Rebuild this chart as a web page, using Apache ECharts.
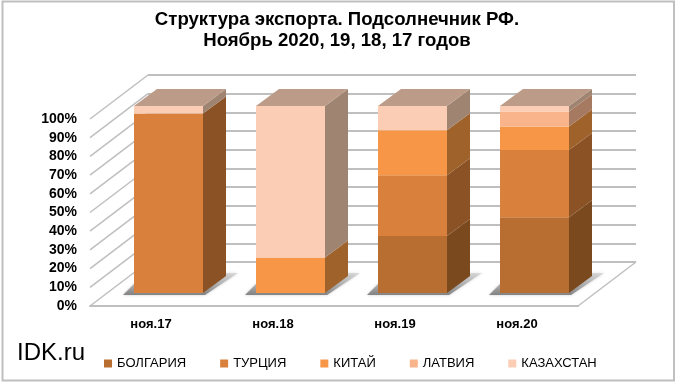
<!DOCTYPE html>
<html><head><meta charset="utf-8">
<style>html,body{margin:0;padding:0;background:#fff}#c{width:680px;height:385px}</style>
<script src="https://cdn.jsdelivr.net/npm/echarts@6/dist/echarts.min.js"></script>
</head><body><div id="c"></div>
<script>
const categories = ['ноя.17','ноя.18','ноя.19','ноя.20'];
const bulgaria   = [0, 0, 30.5, 40.5];
const turkey     = [96, 0, 32.5, 36];
const china      = [0, 19, 24, 12.5];
const latvia     = [0, 0, 0, 8];
const kazakhstan = [4, 81, 13, 3];
const yTicks = [0,10,20,30,40,50,60,70,80,90,100];
const names = ['БОЛГАРИЯ','ТУРЦИЯ','КИТАЙ','ЛАТВИЯ','КАЗАХСТАН'];
const seriesValues = [bulgaria, turkey, china, latvia, kazakhstan];
const frontColors = ['#B86E30','#D9803C','#F79646','#FAB48C','#FBCDB5'];
const sideColors  = ['#7A4A1E','#8B5325','#A0622B','#A67A60','#A08472'];
const topColor = '#BC9C88';
const DX = 23, DY = -17, BAR = 69;
const gridLine = '#BFBFBF';

function stacked(idx){
  return categories.map((c,i)=>{
    let s=0; for(let k=0;k<idx;k++) s+=seriesValues[k][i];
    return [i, s, s+seriesValues[idx][i]];
  });
}
function renderSeg(idx){
  return function(params, api){
    const i=api.value(0), a=api.value(1), b=api.value(2);
    if(b-a<=0) return {type:'group',children:[]};
    const p0=api.coord([i,a]), p1=api.coord([i,b]);
    const l=p0[0]-BAR/2, r=p0[0]+BAR/2, y0=p0[1], y1=p1[1];
    const ch=[
      {type:'polygon',shape:{points:[[r,y0],[r+DX,y0+DY],[r+DX,y1+DY],[r,y1]]},style:{fill:sideColors[idx]}},
      {type:'rect',shape:{x:l,y:y1,width:BAR,height:y0-y1},style:{fill:frontColors[idx]}}
    ];
    if(b>=99.9) ch.push({type:'polygon',shape:{points:[[l,y1],[r,y1],[r+DX,y1+DY],[l+DX,y1+DY]]},
      style:{fill:topColor}});
    return {type:'group',children:ch};
  };
}
const segSeries = names.map((n,idx)=>({
  name:n,type:'custom',coordinateSystem:'cartesian2d',xAxisIndex:2,yAxisIndex:2,clip:false,z:5,
  itemStyle:{color:frontColors[idx]},
  encode:{x:0,y:[1,2]},data:stacked(idx),renderItem:renderSeg(idx)
}));
const shadow = {
  type:'custom',coordinateSystem:'cartesian2d',xAxisIndex:2,yAxisIndex:2,clip:false,z:3,silent:true,
  encode:{x:0,y:1},data:categories.map((c,i)=>[i,0]),
  renderItem(params,api){
    const p=api.coord([api.value(0),0]);
    const l=p[0]-BAR/2,r=p[0]+BAR/2,y=p[1];
    return {type:'polygon',shape:{points:[[l-11,y+2],[r+2,y+2],[r+35,y-20],[r+10,y-20],[l,y-9]]},
      style:{fill:new echarts.graphic.LinearGradient(0,0,0,1,[
        {offset:0,color:'rgba(200,200,200,0.55)'},{offset:1,color:'rgba(115,115,115,0.85)'}]),
        shadowBlur:3,shadowColor:'rgba(180,180,180,0.8)'}};
  }
};
const diagonals = {
  type:'custom',coordinateSystem:'cartesian2d',xAxisIndex:0,yAxisIndex:0,clip:false,z:1,silent:true,
  encode:{y:0},data:yTicks.map(v=>[v]),
  renderItem(params,api){
    const x=params.coordSys.x, w=params.coordSys.width;
    const v=api.value(0), y=api.coord([0,v])[1];
    const st={stroke:gridLine,lineWidth:1.5,fill:null};
    const ch=[{type:'line',shape:{x1:x,y1:y,x2:x+58,y2:y-44},style:st}];
    if(v===0) ch.push({type:'line',shape:{x1:x+w,y1:y,x2:x+w+58,y2:y-44},style:st});
    return {type:'group',children:ch};
  }
};
const chart = echarts.init(document.getElementById('c'));
chart.setOption({
  animation:false,backgroundColor:'#fff',
  title:{text:'Структура экспорта. Подсолнечник РФ.\nНоябрь 2020, 19, 18, 17 годов',left:332,textAlign:'center',top:5,
    textStyle:{fontFamily:'Liberation Sans',fontSize:18.6,fontWeight:'bold',color:'#000',lineHeight:20.5}},
  legend:{data:names,left:99,top:352,icon:'rect',itemWidth:8,itemHeight:8,itemGap:34,selectedMode:false,
    textStyle:{fontFamily:'Liberation Sans',fontSize:13,color:'#000'}},
  grid:[
    {left:90,top:119,width:488,height:187},
    {left:148,top:75,width:488,height:187},
    {left:107.5,top:106,width:488,height:187}
  ],
  xAxis:[
    {gridIndex:0,type:'category',data:categories,axisTick:{show:false},
      axisLine:{lineStyle:{color:gridLine,width:2}},
      axisLabel:{margin:12,fontFamily:'Liberation Sans',fontWeight:'bold',fontSize:13,color:'#000'}},
    {gridIndex:1,type:'category',data:categories,show:false},
    {gridIndex:2,type:'category',data:categories,show:false}
  ],
  yAxis:[
    {gridIndex:0,type:'value',min:0,max:100,interval:10,axisLine:{show:false},axisTick:{show:false},splitLine:{show:false},
      axisLabel:{margin:13,formatter:'{value}%',fontFamily:'Liberation Sans',fontWeight:'bold',fontSize:14,color:'#000'}},
    {gridIndex:1,type:'value',min:0,max:100,interval:10,axisLine:{show:false},axisTick:{show:false},axisLabel:{show:false},
      splitLine:{show:true,lineStyle:{color:gridLine,width:2}}},
    {gridIndex:2,type:'value',min:0,max:100,interval:10,show:false}
  ],
  graphic:[
    {type:'rect',shape:{x:2.5,y:1.5,width:671.5,height:379},style:{fill:'none',stroke:'#BFBFBF',lineWidth:2},z:0,silent:true},
    {type:'text',left:17,top:341,style:{text:'IDK.ru',fontFamily:'Liberation Sans',fontSize:24,fill:'#000'},silent:true}
  ],
  series:[diagonals,shadow].concat(segSeries)
});
</script></body></html>
